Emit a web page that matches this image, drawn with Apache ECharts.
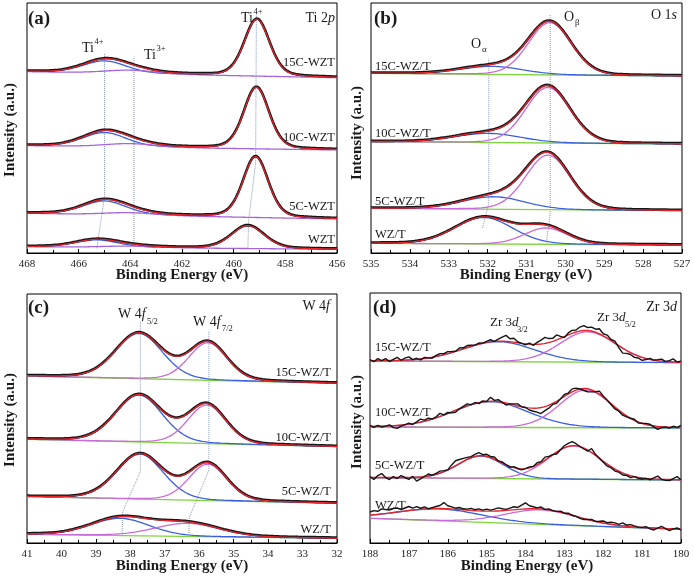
<!DOCTYPE html>
<html><head><meta charset="utf-8">
<script src="https://cdn.jsdelivr.net/npm/echarts@6/dist/echarts.min.js"></script>
<style>html,body{margin:0;padding:0;background:#fff}#c{width:694px;height:580px}</style>
</head><body><div id="c"></div><script>
const FONT = "'Liberation Serif','Times New Roman',Times,serif";
const COL = {black:'#151515', red:'#e3262d', blue:'#3a5ede', mag:'#c86ad8', green:'#7ed43c', violet:'#a663dc', guide:'#8796b0'};

// ---------- Panel (a) Ti 2p : [center eV, height, FWHM] ----------
const aSamples = ['15C-WZT','10C-WZT','5C-WZT','WZT'];
const aBaseL = [181.3, 107.3, 39.7, 6.3];   // background at 468 eV
const aBaseR = [175.3, 103.0, 34.0, 3.7];   // background at 456 eV
const aTi4p32 = [[459.10,56.9,1.15],[459.12,61.6,1.15],[459.15,60.8,1.15],[459.45,22.9,1.5]];
const aTi4p12 = [[465.0,12.2,2.0],[465.0,14.1,2.0],[465.0,13.7,2.0],[465.3,7.3,2.0]];
const aTi3 = [[464.0,3.5,2.4],[464.0,3.5,2.4],[464.0,2.5,2.4],[464.0,1.5,2.4]];
const aGuides = [[[465.3,4.7],[465.0,56.3],[465.0,200]], [[463.86,10],[463.86,196.3]], [[459.45,4.7],[459.42,33],[459.15,90],[459.12,241]]];

// ---------- Panel (b) O 1s ----------
const bSamples = ['15C-WZ/T','10C-WZ/T','5C-WZ/T','WZ/T'];
const bBaseL = [179.7, 111.3, 44.7, 9.7];   // at 535 eV
const bBaseR = [177.0, 109.0, 42.3, 8.0];   // at 527 eV
const bOalpha = [[531.9,8,1.9],[532.0,9.2,2.0],[531.85,12.5,1.9],[532.1,26.5,1.75]];
const bObeta = [[530.40,52.3,1.3],[530.45,55.7,1.35],[530.45,54.6,1.35],[530.50,16.3,1.3]];
const bGuides = [[[532.13,25],[531.97,49.7],[531.97,194.7]], [[530.39,238],[530.39,39.7],[530.49,9.7]]];

// ---------- Panel (c) W 4f ----------
const cSamples = ['15C-WZ/T','10C-WZ/T','5C-WZ/T','WZ/T'];
const cBaseL = [167.0, 103.7, 46.3, 8.7];   // at 41 eV
const cBaseR = [159.7, 96.3, 39.7, 4.7];    // at 32 eV
const cW52 = [[37.75,45.3,1.6],[37.75,47,1.6],[37.72,45,1.6],[38.3,17.2,2.0]];
const cW72 = [[35.75,37.6,1.3],[35.78,38.7,1.3],[35.75,36.5,1.3],[36.35,13.1,2.2]];
const cGuides = [[[38.24,10],[38.22,31.3],[37.71,71.3],[37.71,221.3]], [[36.30,10],[36.28,26.3],[35.72,73],[35.72,211.3]]];

// ---------- Panel (d) Zr 3d ----------
const dSamples = ['15C-WZ/T','10C-WZ/T','5C-WZ/T','WZ/T'];
const dBaseL = [182.0, 116.0, 65.3, 24.7];  // at 188 eV
const dBaseR = [180.3, 115.0, 63.0, 13.7];  // at 180 eV
const dZr32 = [[184.7,20,2.2],[184.9,25.7,2.3],[185.15,22.5,1.4],[186.2,11.8,2.6]];
const dZr52 = [[182.4,30.4,1.7],[182.45,37.7,1.6],[182.75,33.4,1.6],[183.6,14.4,2.2]];
// measured raw-data deviation from the fit, 188.0 -> 180.0 eV every 0.1 eV
const dResid = [
 [1,-1,2,0,2,-1,1,3,0,2, 3,0,1,-1,1,0,-1,1,2,1, 2,1,0,2,1,2,1,0,1,0, 1,2,0,2,4,6,3,4,1,0, -1,1,-1,2,4,6,4,3,5,2, -1,2,3,2,4,5,3,4,3,5, 2,3,1,2,-2,-5,-3,-2,-3,-2, -3,-1,1,0,1,2,0,1,3,0, 1],
 [1,-1,1,-1,0,1,-2,-3,-1,0, 1,-1,1,3,1,2,0,1,3,0, 1,-1,-2,0,1,2,0,1,-1,1, 0,4,1,2,0,-2,0,1,2,0, 0,-2,-3,-4,-6,-4,-3,-1,-2,0, 2,1,3,2,0,-2,-3,-2,0,3, 1,0,-1,-2,-1,-2,-1,0,1,-1, 0,1,1,-1,-3,-1,0,-1,1,0, 2],
 [1,-2,2,4,0,-2,1,-1,2,0, -2,1,-4,-2,0,2,0,1,2,1, 0,3,5,4,3,2,1,2,3,1, 2,1,2,0,1,0,-1,1,0,-1, 0,1,0,2,1,3,1,0,-2,0, 2,3,4,2,0,-1,-1,4,1,0, -1,-2,-1,-2,-1,-2,-1,-2,0,-1, -1,0,-1,1,3,0,-1,-1,1,3, 0],
 [3,4,3,5,4,3,4,4,2,3, 4,2,3,1,2,0,1,2,3,6, 3,2,1,2,1,1,2,1,2,1, 2,1,2,3,2,1,2,3,2,4, 6,3,2,1,2,0,1,0,0,1, 0,1,0,0,-1,-1,0,1,0,1, 2,1,2,2,1,3,1,2,1,0, 0,1,-1,-2,0,2,0,-2,0,1, -1]
];

// ---------- helpers ----------
function pv(x, p, eta){ const d=(x-p[0])/p[2]; return p[1]*((1-eta)*Math.exp(-4*Math.LN2*d*d)+eta/(1+4*d*d)); }
function base(x, lo, hi, L, R){ return L + (R-L)*(hi-x)/(hi-lo); }
function grid(x){ const a=[]; for(let v=x[0]; v<=x[1]+1e-9; v+=x[2]) a.push(+v.toFixed(3)); return a; }
function ln(gi, data, color, width, z, dotted){
  return {type:'line', xAxisIndex:gi, yAxisIndex:gi, data, symbol:'none', showSymbol:false, silent:true,
    animation:false, smooth:false, lineStyle:{color, width, type: dotted?'dotted':'solid'}, z};
}
const series = [];
function panel(gi, lo, hi, eta, L, R, compA, compB, colA, colB, withGreen, resid){
  const xs = grid([lo, hi, 0.04]);
  for(let i=0;i<4;i++){
    const bl = x => base(x, lo, hi, L[i], R[i]);
    const fa = x => compA[i].reduce((s,p)=>s+pv(x,p,eta),0);
    const fb = x => compB[i].reduce((s,p)=>s+pv(x,p,eta),0);
    if(withGreen) series.push(ln(gi, [[lo,bl(lo)],[hi,bl(hi)]], COL.green, 1.3, 2));
    series.push(ln(gi, xs.map(x=>[x, bl(x)+fa(x)]), colA, 1.3, 3));
    series.push(ln(gi, xs.map(x=>[x, bl(x)+fb(x)]), colB, 1.3, 4));
    const env = x => bl(x)+fa(x)+fb(x);
    if(resid){
      const bx=[]; for(let k=0;k<resid[i].length;k++){ const x=+(hi-0.1*k).toFixed(2); bx.push([x, env(x)+resid[i][k]]); }
      series.push(ln(gi, xs.map(x=>[x, env(x)]), COL.red, 1.4, 5));
      series.push(ln(gi, bx, COL.black, 1.4, 6));
    } else {
      series.push(ln(gi, xs.map(x=>[x, env(x)+0.6]), COL.black, 2.6, 5));
      series.push(ln(gi, xs.map(x=>[x, env(x)]), COL.red, 1.3, 6));
    }
  }
}
panel(0, 456, 468, 0.25, aBaseL, aBaseR, aTi4p32.map((p,i)=>[p, aTi4p12[i]]), aTi3.map(p=>[p]), COL.blue, COL.violet, false, null);
panel(1, 527, 535, 0.1, bBaseL, bBaseR, bOalpha.map(p=>[p]), bObeta.map(p=>[p]), COL.blue, COL.mag, true, null);
panel(2, 32, 41, 0.15, cBaseL, cBaseR, cW52.map(p=>[p]), cW72.map(p=>[p]), COL.blue, COL.mag, true, null);
panel(3, 180, 188, 0.1, dBaseL, dBaseR, dZr32.map(p=>[p]), dZr52.map(p=>[p]), COL.blue, COL.mag, true, dResid);
[[0,aGuides],[1,bGuides],[2,cGuides]].forEach(([gi,gs])=>gs.forEach(g=>series.push(ln(gi, g, COL.guide, 1, 1, true))));

function xAx(gi, min, max, interval){
  return {type:'value', gridIndex:gi, min, max, interval, inverse:true,
    axisLine:{show:true, onZero:false, lineStyle:{color:'#000', width:1}},
    axisTick:{show:true, inside:true, length:4, lineStyle:{color:'#000', width:1}},
    minorTick:{show:true, splitNumber:2, length:3, lineStyle:{color:'#000', width:1}},
    axisLabel:{fontFamily:FONT, fontSize:11, color:'#222', margin:6, showMinLabel:true, showMaxLabel:true},
    splitLine:{show:false}, minorSplitLine:{show:false}};
}
function yAx(gi, max){ return {type:'value', gridIndex:gi, min:0, max, show:false, splitLine:{show:false}}; }
const G = (left, top, width, height) => ({left, top, width, height, show:true, borderColor:'#000', borderWidth:1, backgroundColor:'transparent'});

function T(x, y, text, size, o){
  o = o||{};
  const st = {text, x:0, y:0, fill:'#1a1a1a', fontFamily:FONT, fontSize:size, fontWeight:o.bold?'bold':'normal',
    fontStyle:o.italic?'italic':'normal', align:o.align||'left', verticalAlign:'middle',
    textAlign:o.align||'left', textVerticalAlign:'middle'};
  if(o.rich) st.rich = o.rich;
  return {type:'text', x, y, rotation:o.rot||0, silent:true, z:100, style:st};
}
const it = s => ({i:{fontStyle:'italic', fontSize:s, fontFamily:FONT, fill:'#1a1a1a'}});
const texts = [];
// panel labels
texts.push(T(28,19,'(a)',19,{bold:true}), T(374,19,'(b)',19,{bold:true}), T(28,308,'(c)',19,{bold:true}), T(373,308,'(d)',19,{bold:true}));
// element labels
texts.push(T(335,18,'Ti 2{i|p}',14,{align:'right', rich:it(14)}), T(677,15,'O 1{i|s}',14,{align:'right', rich:it(14)}),
  T(330,306,'W 4{i|f}',14,{align:'right', rich:it(14)}), T(677,307,'Zr 3{i|d}',14,{align:'right', rich:it(14)}));
// peak labels (a)
texts.push(T(82,48.5,'Ti',14), T(94.5,42,'4+',8.5), T(144,55.5,'Ti',14), T(156.5,49,'3+',8.5), T(241,18.5,'Ti',14), T(253.5,11.5,'4+',8.5));
// (b)
texts.push(T(471,44.5,'O',14), T(482,50,'α',9), T(564,17,'O',14), T(575,22.5,'β',9));
// (c)
texts.push(T(118,314,'W 4{i|f}',14,{rich:it(14)}), T(147,321.5,'5/2',8.5), T(193,322.5,'W 4{i|f}',14,{rich:it(14)}), T(222,328.5,'7/2',8.5));
// (d)
texts.push(T(490,323,'Zr 3{i|d}',13,{rich:it(13)}), T(517,330,'3/2',8.5), T(597,318,'Zr 3{i|d}',13,{rich:it(13)}), T(625,325,'5/2',8.5));
// sample labels
const aY=[63,137.5,207,240], bY=[67,134,201.5,235], cY=[372.5,438,492,529.5], dY=[348,413,466,506];
aSamples.forEach((s,i)=>texts.push(T(335,aY[i],s,12.5,{align:'right'})));
bSamples.forEach((s,i)=>texts.push(T(375,bY[i],s,12.5)));
cSamples.forEach((s,i)=>texts.push(T(331,cY[i],s,12.5,{align:'right'})));
dSamples.forEach((s,i)=>texts.push(T(375,dY[i],s,12.5)));
// axis titles
[[10,130],[357,133],[10,420],[357,422]].forEach(p=>texts.push(T(p[0],p[1],'Intensity (a.u.)',15,{bold:true, align:'center', rot:Math.PI/2})));
[[182,275],[526,275],[182,566],[527,566]].forEach(p=>texts.push(T(p[0],p[1],'Binding Energy (eV)',15,{bold:true, align:'center'})));

const chart = echarts.init(document.getElementById('c'), null, {renderer:'canvas'});
chart.setOption({
  animation:false, backgroundColor:'#fff',
  grid:[G(27,3,310,250), G(371,3,311,250), G(27,294,310,249), G(370,293,311,250)],
  xAxis:[xAx(0,456,468,2), xAx(1,527,535,1), xAx(2,32,41,1), xAx(3,180,188,1)],
  yAxis:[yAx(0,250), yAx(1,250), yAx(2,249), yAx(3,250)],
  series, graphic:{elements:texts}
});
</script></body></html>
